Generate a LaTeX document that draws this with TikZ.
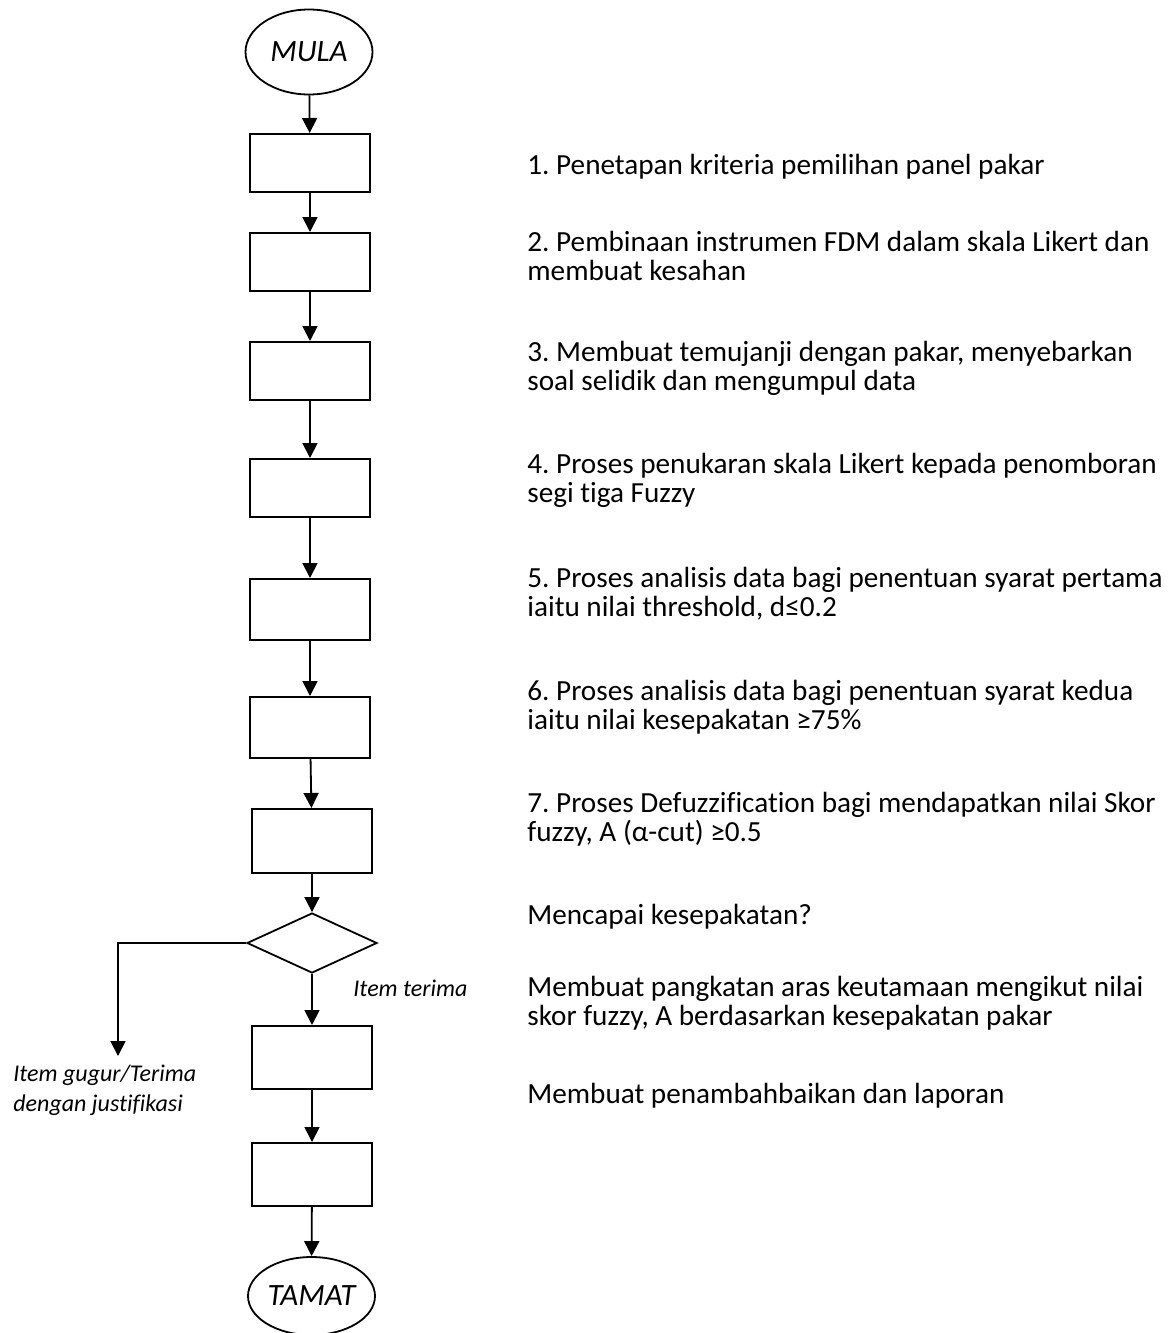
\documentclass[tikz,border=0pt]{standalone}
\usepackage{fontspec}
\setmainfont{Carlito}[Ligatures={NoCommon}]
\frenchspacing
\usetikzlibrary{shapes.geometric,arrows.meta}

\tikzset{
  terminal/.style={draw, ellipse, line width=0.9pt, inner sep=0pt,
    minimum width=63.5pt, minimum height=42.5pt,
    font=\fontsize{15.5}{18}\selectfont\itshape},
  stepbox/.style={draw, rectangle, line width=1pt, inner sep=0pt,
    minimum width=60pt, minimum height=29pt},
  decision/.style={draw, diamond, line width=0.9pt, inner sep=0pt,
    minimum width=65pt, minimum height=30pt},
  flow/.style={line width=0.9pt, -{Triangle[length=7.5pt,width=7.5pt]}},
  % multi-line nodes are anchored on the baseline of their last line
  desc/.style={anchor=base west, align=left, inner sep=0pt,
    font=\fontsize{14.6}{14.4}\selectfont},
  branchlabel/.style={anchor=base west, align=left, inner sep=0pt,
    font=\fontsize{12}{15}\selectfont\itshape}
}

\begin{document}
\begin{tikzpicture}[x=0.5pt,y=-0.5pt]
\useasboundingbox (0,0) rectangle (1174,1333);

% flowchart column
\node[terminal] (mula) at (309,52) {MULA};
\node[stepbox] (b1) at (310,163) {};
\node[stepbox] (b2) at (310,262) {};
\node[stepbox] (b3) at (310,371) {};
\node[stepbox] (b4) at (310,488) {};
\node[stepbox, minimum height=30.5pt] (b5) at (310,609.5) {};
\node[stepbox, minimum height=30.5pt] (b6) at (310,727.5) {};
\node[stepbox, minimum height=32pt] (b7) at (312,841) {};
\node[decision] (dec) at (312,943) {};
\node[stepbox, minimum height=31.5pt] (b8) at (312,1057.5) {};
\node[stepbox, minimum height=31.5pt] (b9) at (312,1174.5) {};
\node[terminal, minimum height=39pt] (tamat) at (311.5,1296) {TAMAT};
\coordinate (gugur) at (118,1056);

\draw[flow] (mula) -- (b1);
\draw[flow] (b1) -- (b2);
\draw[flow] (b2) -- (b3);
\draw[flow] (b3) -- (b4);
\draw[flow] (b4) -- (b5);
\draw[flow] (b5) -- (b6);
\draw[flow] (b6) -- (b7);
\draw[flow] (b7) -- (dec);
\draw[flow] (dec) -- (b8);
\draw[flow] (b8) -- (b9);
\draw[flow] (b9) -- (tamat);
\draw[flow] (dec.west) -| (gugur);

% branch labels
\node[branchlabel] (terima) at (353,996) {Item terima};
\node[branchlabel] (gugurtxt) at (13,1111) {Item gugur/Terima\\dengan justifikasi};

% step descriptions
\node[desc] (d1) at (527,174) {1. Penetapan kriteria pemilihan panel pakar};
\node[desc] (d2) at (527,280) {2. Pembinaan instrumen FDM dalam skala Likert dan\\membuat kesahan};
\node[desc] (d3) at (527,390) {3. Membuat temujanji dengan pakar, menyebarkan\\soal selidik dan mengumpul data};
\node[desc] (d4) at (527,502) {4. Proses penukaran skala Likert kepada penomboran\\segi tiga Fuzzy};
\node[desc] (d5) at (527,616) {5. Proses analisis data bagi penentuan syarat pertama\\iaitu nilai threshold, d≤0.2};
\node[desc] (d6) at (527,729) {6. Proses analisis data bagi penentuan syarat kedua\\iaitu nilai kesepakatan ≥75\%};
\node[desc] (d7) at (527,841) {7. Proses Defuzzification bagi mendapatkan nilai Skor\\fuzzy, A (α-cut) ≥0.5};
\node[desc] (d8) at (527,924) {Mencapai kesepakatan?};
\node[desc] (d9) at (527,1025) {Membuat pangkatan aras keutamaan mengikut nilai\\skor fuzzy, A berdasarkan kesepakatan pakar};
\node[desc] (d10) at (527,1103) {Membuat penambahbaikan dan laporan};
\end{tikzpicture}
\end{document}
